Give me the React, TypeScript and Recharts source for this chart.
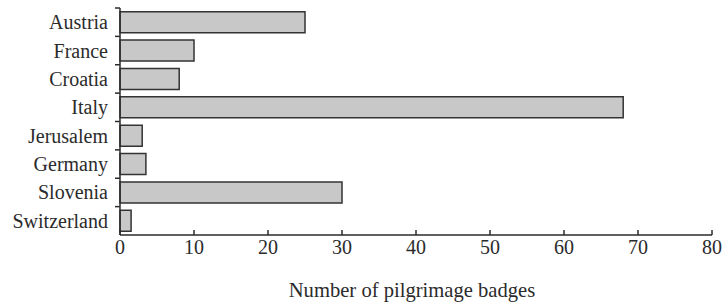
import React from 'react';
import { BarChart, Bar, XAxis, YAxis } from 'recharts';

const countries = ['Austria', 'France', 'Croatia', 'Italy', 'Jerusalem', 'Germany', 'Slovenia', 'Switzerland'];
const badges = [25, 10, 8, 68, 3, 3.5, 30, 1.5];
const xTicks = [0, 10, 20, 30, 40, 50, 60, 70, 80];
const axisTitle = 'Number of pilgrimage badges';

const data = countries.map((c, i) => ({ country: c, badges: badges[i] }));

const W = 725;
const H = 303;
const M = { top: 8, right: 13, bottom: 0, left: 0 };
const Y_W = 120;
const X_H = 68;
const BAND = (H - M.top - M.bottom - X_H) / countries.length;
const FONT = '"Liberation Serif", "Times New Roman", serif';
const INK = '#2b2b2b';

const YTick = (props: any) => {
  const { x, y, payload } = props;
  return (
    <g>
      <line x1={x - 5} x2={x} y1={y - BAND / 2} y2={y - BAND / 2} stroke={INK} strokeWidth={1.5} />
      <text x={x - 12} y={y + 7} textAnchor="end" fontFamily={FONT} fontSize={20} fill={INK}>
        {payload.value}
      </text>
    </g>
  );
};

const XTick = (props: any) => {
  const { x, y, payload } = props;
  return (
    <g>
      <line x1={x} x2={x} y1={y} y2={y - 5} stroke={INK} strokeWidth={1.5} />
      <text x={x} y={y + 19} textAnchor="middle" fontFamily={FONT} fontSize={20} fill={INK}>
        {payload.value}
      </text>
    </g>
  );
};

const XTitle = (props: any) => {
  const vb = props.viewBox || {};
  return (
    <text x={vb.x + vb.width / 2 - 4} y={vb.y + 62} textAnchor="middle" fontFamily={FONT} fontSize={20.6} fill={INK}>
      {axisTitle}
    </text>
  );
};

export default function App() {
  return (
    <div style={{ position: 'absolute', left: 0, top: 0, width: W, height: H, background: '#fff' }}>
      <BarChart width={W} height={H} data={data} layout="vertical" margin={M} barCategoryGap="13%">
        <XAxis
          type="number"
          dataKey="badges"
          domain={[0, 80]}
          ticks={xTicks}
          interval={0}
          height={X_H}
          tickSize={0}
          tickMargin={0}
          tickLine={false}
          axisLine={{ stroke: INK, strokeWidth: 1.5 }}
          tick={<XTick />}
          label={<XTitle />}
        />
        <YAxis
          type="category"
          dataKey="country"
          width={Y_W}
          interval={0}
          tickSize={0}
          tickMargin={0}
          tickLine={false}
          axisLine={{ stroke: INK, strokeWidth: 1.5 }}
          tick={<YTick />}
        />
        <Bar dataKey="badges" fill="#c8c8c8" stroke="#333" strokeWidth={1.5} isAnimationActive={false} />
      </BarChart>
    </div>
  );
}
